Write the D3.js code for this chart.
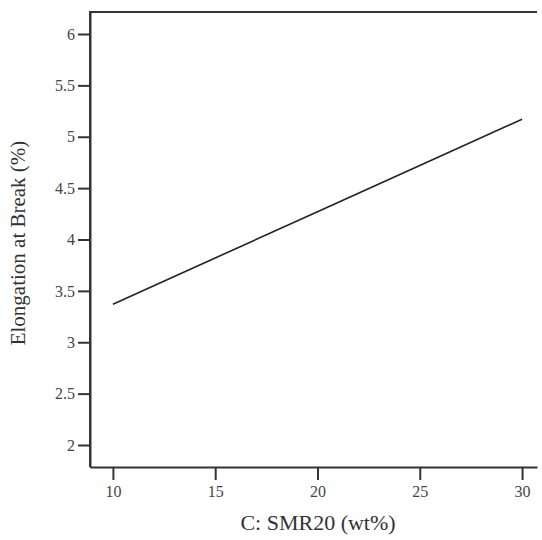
<!DOCTYPE html>
<html>
<head>
<meta charset="utf-8">
<script src="https://cdn.jsdelivr.net/npm/d3@7"></script>
<style>
  body { margin: 0; background: #fff; }
  svg { display: block; }
</style>
</head>
<body>
<div class="chartDIV"></div>
<script>
// Elongation at break vs SMR20 content (model line)
var smr = [10, 15, 20, 25, 30],
    elongation = [3.37, 3.82, 4.27, 4.72, 5.17],
    yTicks = [2, 2.5, 3, 3.5, 4, 4.5, 5, 5.5, 6],
    xTicks = [10, 15, 20, 25, 30];

var width = 542,
    height = 540,
    padLeft = 90,
    padTop = 12,
    padRight = 537,
    padBottom = 467;

var svg = d3.select(".chartDIV").
    append("svg").
    attr("width", width).
    attr("height", height);

var x = d3.scaleLinear().domain([8.88, 30.73]).range([padLeft, padRight]),
    y = d3.scaleLinear().domain([1.786, 6.214]).range([padBottom, padTop]);

// frame (top + left + bottom)
svg.append("path").
    attr("d", "M" + padLeft + "," + padBottom + "V" + padTop + "H" + padRight).
    attr("fill", "none").
    attr("stroke", "#333").
    attr("stroke-width", 2);

var xAxis = svg.append("g").
    attr("transform", "translate(0," + padBottom + ")").
    call(d3.axisBottom(x).tickValues(xTicks).tickSize(13).tickSizeOuter(0).tickPadding(6).tickFormat(d3.format("d")));
xAxis.select(".domain").attr("stroke", "#333").attr("stroke-width", 2);
xAxis.selectAll(".tick line").attr("stroke", "#333").attr("stroke-width", 2);

var yAxis = svg.append("g").
    attr("transform", "translate(" + padLeft + ",0)").
    call(d3.axisLeft(y).tickValues(yTicks).tickSize(12).tickSizeOuter(0).tickPadding(3).tickFormat(function(d) { return d; }));
yAxis.select(".domain").attr("stroke", "#333").attr("stroke-width", 2);
yAxis.selectAll(".tick line").attr("stroke", "#333").attr("stroke-width", 2);

svg.selectAll(".tick text").
    attr("font-family", "'Liberation Serif', 'Times New Roman', serif").
    attr("font-size", 16).
    attr("fill", "#444");

var line = d3.line().
    x(function(d, i) { return x(smr[i]); }).
    y(function(d) { return y(d); });

svg.append("path").
    datum(elongation).
    attr("d", line).
    attr("fill", "none").
    attr("stroke", "#222").
    attr("stroke-width", 1.6);

svg.append("text").
    attr("x", 318).
    attr("y", 530).
    attr("text-anchor", "middle").
    style("font", "22px 'Liberation Serif', 'Times New Roman', serif").
    style("fill", "#333").
    text("C: SMR20 (wt%)");

svg.append("text").
    attr("transform", "translate(25,243) rotate(-90)").
    attr("text-anchor", "middle").
    style("font", "21px 'Liberation Serif', 'Times New Roman', serif").
    style("fill", "#333").
    text("Elongation at Break (%)");
</script>
</body>
</html>
